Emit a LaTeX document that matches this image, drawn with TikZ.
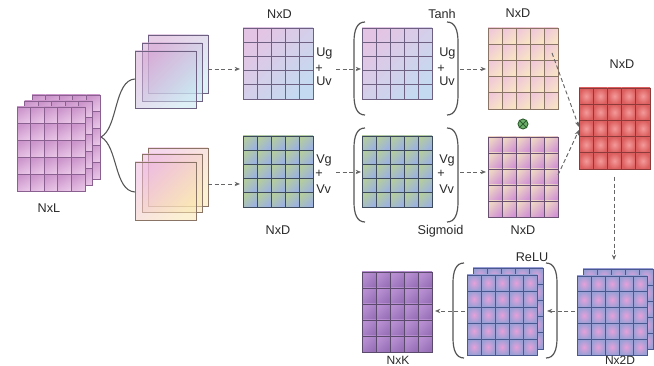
\documentclass[tikz,border=0pt]{standalone}
\usepackage{fontspec}
\setmainfont{Liberation Sans}
\usetikzlibrary{arrows.meta,fit}
\definecolor{arrc}{HTML}{666666}
\definecolor{brkc}{HTML}{555555}
\definecolor{txtc}{HTML}{2A2A2A}
\definecolor{lA}{HTML}{8A6090}
\definecolor{lB}{HTML}{6E6080}
\definecolor{lC}{HTML}{3C4A5C}
\definecolor{lD}{HTML}{8A7466}
\definecolor{lE}{HTML}{6A5070}
\definecolor{lR}{HTML}{8C3A3A}
\definecolor{lN}{HTML}{4A5890}
\definecolor{lK}{HTML}{5C4A6C}
\definecolor{lG}{HTML}{2E5E2E}
\definecolor{cG}{HTML}{6CB06C}
\definecolor{cA1}{HTML}{CC96CC}
\definecolor{cA2}{HTML}{E8C4E6}
\definecolor{cB1}{HTML}{E4C4E4}
\definecolor{cB2}{HTML}{C4DAF0}
\definecolor{cC1}{HTML}{B4CCA0}
\definecolor{cC2}{HTML}{9CB2E0}
\definecolor{cD1}{HTML}{F0C8D8}
\definecolor{cD2}{HTML}{F8E4C4}
\definecolor{cE1}{HTML}{EDD6C4}
\definecolor{cE2}{HTML}{D294D4}
\definecolor{cR1}{HTML}{F49A9A}
\definecolor{cR2}{HTML}{DC5E5E}
\definecolor{cN1}{HTML}{E6A0DA}
\definecolor{cN2}{HTML}{9AA0D6}
\definecolor{cK1}{HTML}{B890D2}
\definecolor{cK2}{HTML}{9870B8}
\definecolor{ptA}{HTML}{D4A6D4}
\definecolor{ptB}{HTML}{C6E4F0}
\definecolor{pbA}{HTML}{EEB8DC}
\definecolor{pbB}{HTML}{FAE6B0}
\tikzset{
  gline/.style={line width=0.7pt},
  brk/.style={draw=brkc, line width=0.9pt},
  flow/.style={draw=arrc, dash pattern=on 3pt off 2pt, line width=0.7pt, -{Stealth[length=4pt,width=3.2pt]}},
  lbl/.style={text=txtc, inner sep=0pt, anchor=base, font=\fontsize{9.5}{11}\selectfont},
  tsq/.style={shading angle=45, fill opacity=0.55},
}
% name, x1, y1, x2, y2, background style, cell style, line colour
\newcommand{\mgrid}[8]{%
  \path[#6] (#2,#3) rectangle (#4,#5);
  \foreach \i in {0,...,4}{\foreach \j in {0,...,4}{%
    \path[#7] ({#2+\i*(#4-#2)/5},{#3+\j*(#5-#3)/5}) rectangle ({#2+(\i+1)*(#4-#2)/5},{#3+(\j+1)*(#5-#3)/5});}}%
  \foreach \k in {1,...,4}{%
    \draw[gline,draw=#8] ({#2+\k*(#4-#2)/5},#3) -- ({#2+\k*(#4-#2)/5},#5);
    \draw[gline,draw=#8] (#2,{#3+\k*(#5-#3)/5}) -- (#4,{#3+\k*(#5-#3)/5});}%
  \draw[gline,draw=#8] (#2,#3) rectangle (#4,#5);
  \node[inner sep=0pt, fit={(#2,#3) (#4,#5)}] (#1) {};
}
\newcommand{\lbr}[3]{\draw[brk] ({#1+11},#2) .. controls ({#1+3},#2) and (#1,{#2+8}) .. (#1,{#2+20}) -- (#1,{#3-20}) .. controls (#1,{#3-8}) and ({#1+3},#3) .. ({#1+11},#3);}
\newcommand{\rbr}[3]{\draw[brk] ({#1-11},#2) .. controls ({#1-3},#2) and (#1,{#2+8}) .. (#1,{#2+20}) -- (#1,{#3-20}) .. controls (#1,{#3-8}) and ({#1-3},#3) .. ({#1-11},#3);}
\begin{document}
\begin{tikzpicture}[x=0.75pt,y=-0.75pt]
\useasboundingbox[fill=white] (0,0) rectangle (654,366);
% ---------- NxL stack ----------
\mgrid{xl3}{32}{95}{100}{179}{}{top color=cA1, bottom color=cA2, shading angle=30}{lA}
\mgrid{xl2}{24.5}{101}{92.5}{185}{}{top color=cA1, bottom color=cA2, shading angle=30}{lA}
\mgrid{xl1}{17}{107}{85}{191}{}{top color=cA1, bottom color=cA2, shading angle=30}{lA}
\node[lbl] (tNxL) at (49,213) {NxL};
% ---------- translucent squares ----------
\path[top color=ptA, bottom color=ptB, tsq] (148,35) rectangle (208,93);
\draw[draw=lB, line width=0.7pt] (148,35) rectangle (208,93);
\path[top color=ptA, bottom color=ptB, tsq] (142,43) rectangle (202,101);
\draw[draw=lB, line width=0.7pt] (142,43) rectangle (202,101);
\path[top color=ptA, bottom color=ptB, tsq] (135,51) rectangle (196,108);
\draw[draw=lB, line width=0.7pt] (135,51) rectangle (196,108);
\node[inner sep=0pt, fit={(135,35) (208,108)}] (sqT) {};
\path[top color=pbA, bottom color=pbB, tsq] (148,148) rectangle (208,206);
\draw[draw=lD, line width=0.7pt] (148,148) rectangle (208,206);
\path[top color=pbA, bottom color=pbB, tsq] (142,154) rectangle (202,212);
\draw[draw=lD, line width=0.7pt] (142,154) rectangle (202,212);
\path[top color=pbA, bottom color=pbB, tsq] (135,162) rectangle (196,220);
\draw[draw=lD, line width=0.7pt] (135,162) rectangle (196,220);
\node[inner sep=0pt, fit={(135,148) (208,220)}] (sqB) {};
% curves
\coordinate (br) at (101,137);
\coordinate (cT) at (135,79);
\coordinate (cB) at (135,192);
\draw[draw=brkc, line width=0.8pt] (br) .. controls (118,128) and (114,80) .. (cT);
\draw[draw=brkc, line width=0.8pt] (br) .. controls (118,146) and (114,191) .. (cB);
% ---------- NxD grids ----------
\mgrid{g1}{243}{28}{313}{99}{top color=cB1, bottom color=cB2, shading angle=45}{}{lB}
\mgrid{g2}{243}{136}{313}{207}{}{top color=cC1, bottom color=cC2, shading angle=45}{lC}
\mgrid{g3}{362}{28}{432}{99}{top color=cB1, bottom color=cB2, shading angle=45}{}{lB}
\mgrid{g4}{362}{136}{432}{207}{}{top color=cC1, bottom color=cC2, shading angle=45}{lC}
\mgrid{g5}{488}{28}{558}{109}{}{top color=cD1, bottom color=cD2, shading angle=45}{lD}
\mgrid{g6}{488}{137}{558}{217}{}{top color=cE1, bottom color=cE2, shading angle=45}{lE}
\mgrid{gr}{579}{88}{650}{169}{}{inner color=cR1, outer color=cR2}{lR}
% labels
\node[lbl] (t1) at (279.5,19) {NxD};
\node[lbl] (t2) at (278,235) {NxD};
\node[lbl] (t3) at (442,19) {Tanh};
\node[lbl] (t4) at (440.5,235) {Sigmoid};
\node[lbl] (t5) at (518,18) {NxD};
\node[lbl] (t6) at (523,235) {NxD};
\node[lbl] (t7) at (622,68.5) {NxD};
\node[lbl, anchor=base west] (u1) at (316,57) {Ug};
\node[lbl, anchor=base west] (p1) at (315,72.5) {+};
\node[lbl, anchor=base west] (v1) at (316,86) {Uv};
\node[lbl, anchor=base west] (u2) at (439,57) {Ug};
\node[lbl, anchor=base west] (p2) at (437,72.5) {+};
\node[lbl, anchor=base west] (v2) at (439,86) {Uv};
\node[lbl, anchor=base west] (u3) at (316,163.5) {Vg};
\node[lbl, anchor=base west] (p3) at (315,178) {+};
\node[lbl, anchor=base west] (v3) at (316,194) {Vv};
\node[lbl, anchor=base west] (u4) at (439,163.5) {Vg};
\node[lbl, anchor=base west] (p4) at (437,178) {+};
\node[lbl, anchor=base west] (v4) at (439,194) {Vv};
% brackets
\lbr{354}{22}{115}
\rbr{458}{22}{115}
\lbr{354}{128}{222}
\rbr{458}{128}{222}
% otimes
\node[circle, draw=lG, fill=cG, line width=0.7pt, minimum size=7.5pt, inner sep=0pt] (ot) at (523,124) {};
\draw[draw=lG, line width=0.7pt] (ot.north west) -- (ot.south east) (ot.north east) -- (ot.south west);
% ---------- bottom row ----------
\mgrid{n2b}{583}{269}{653}{349}{}{inner color=cN1, outer color=cN2}{lN}
\mgrid{n2f}{577}{276}{647}{355}{}{inner color=cN1, outer color=cN2}{lN}
\mgrid{rlb}{473}{268}{543}{349}{}{inner color=cN1, outer color=cN2}{lN}
\mgrid{rlf}{467}{275}{537}{355}{}{inner color=cN1, outer color=cN2}{lN}
\mgrid{nk}{362}{272}{432}{352}{}{top color=cK1, bottom color=cK2, shading angle=45}{lK}
\lbr{453}{263}{358}
\rbr{557}{263}{358}
\node[lbl] (t8) at (532,262) {ReLU};
\node[lbl, font=\fontsize{9}{10}\selectfont] (t9) at (398,365) {NxK};
\node[lbl, font=\fontsize{9}{10}\selectfont] (t10) at (620,365) {Nx2D};
% ---------- arrows ----------
\coordinate (a1s) at (208,69);  \coordinate (a1e) at (240,69);
\coordinate (a2s) at (208,184); \coordinate (a2e) at (240,184);
\coordinate (a3s) at (336,69);  \coordinate (a3e) at (361,69);
\coordinate (a4s) at (336,172); \coordinate (a4e) at (361,172);
\coordinate (a5s) at (460,69);  \coordinate (a5e) at (486,69);
\coordinate (a6s) at (460,172); \coordinate (a6e) at (486,172);
\coordinate (a7s) at (552,53);  \coordinate (a7e) at (579,127);
\coordinate (a8s) at (558,175); \coordinate (a8e) at (579,130);
\coordinate (a9s) at (614,177); \coordinate (a9e) at (614,260);
\coordinate (a10s) at (575,311); \coordinate (a10e) at (547,311);
\coordinate (a11s) at (465,311); \coordinate (a11e) at (435,311);
\foreach \s/\e in {a1s/a1e,a2s/a2e,a3s/a3e,a4s/a4e,a5s/a5e,a6s/a6e,a7s/a7e,a8s/a8e,a9s/a9e,a10s/a10e,a11s/a11e}
  \draw[flow] (\s) -- (\e);
\end{tikzpicture}
\end{document}
